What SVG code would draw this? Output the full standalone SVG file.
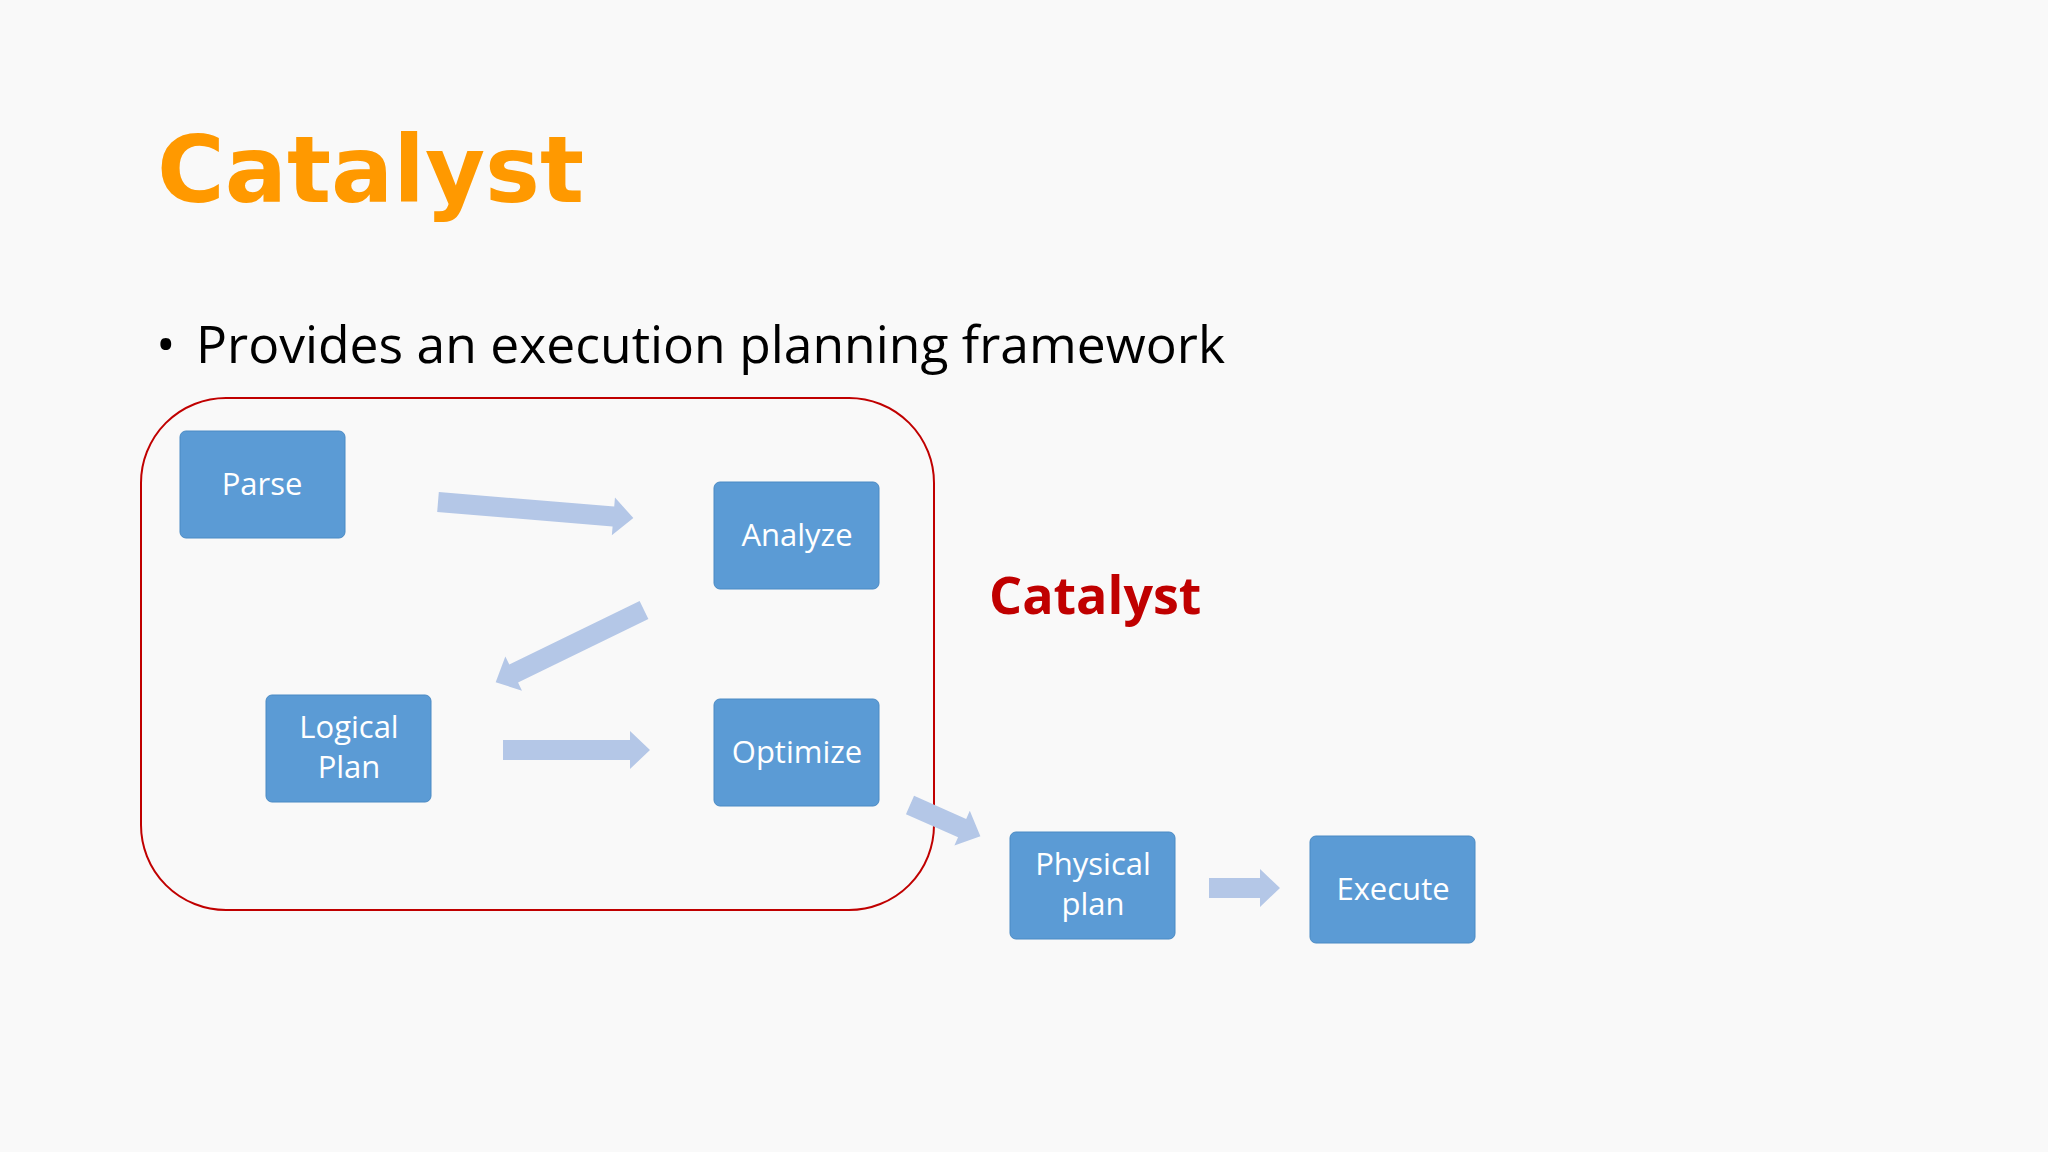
<svg xmlns="http://www.w3.org/2000/svg" width="2048" height="1152" viewBox="0 0 2048 1152">
<style>
.box{fill:#5b9bd5;stroke:#4a8ac4;stroke-width:1}
.bt{font-family:"Open Sans","Liberation Sans",sans-serif;font-size:31px;fill:#fff;text-anchor:middle}
.arr{fill:#b4c7e7}
</style>
<rect width="2048" height="1152" fill="#f9f9f9"/>
<text x="157" y="202" font-family="'DejaVu Sans',sans-serif" font-weight="bold" font-size="92" fill="#ff9900" textLength="427" lengthAdjust="spacingAndGlyphs">Catalyst</text>
<text x="156" y="363" font-family="'Open Sans','Liberation Sans',sans-serif" font-size="52" fill="#000">•</text>
<text x="196" y="363" font-family="'Open Sans','Liberation Sans',sans-serif" font-size="52" fill="#000" textLength="1029" lengthAdjust="spacingAndGlyphs">Provides an execution planning framework</text>
<rect x="141" y="398" width="793" height="512" rx="85" fill="none" stroke="#c00000" stroke-width="2"/>
<text x="989" y="614" font-family="'Open Sans','Liberation Sans',sans-serif" font-weight="bold" font-size="52" fill="#c00000">Catalyst</text>
<g id="connectors">
<path class="arr" transform="translate(438,502) rotate(4.7)" d="M0,-10H176V-19L196,0L176,19V10H0Z"/>
<path class="arr" transform="translate(644,610) rotate(154)" d="M0,-10H145V-19L165,0L145,19V10H0Z"/>
<path class="arr" transform="translate(503,750)" d="M0,-10H127V-19L147,0L127,19V10H0Z"/>
<path class="arr" transform="translate(910,805) rotate(23.9)" d="M0,-10H57V-19L77,0L57,19V10H0Z"/>
<path class="arr" transform="translate(1209,888)" d="M0,-10H51V-19L71,0L51,19V10H0Z"/>
</g>
<g id="parse"><rect class="box" x="180" y="431" width="165" height="107" rx="6"/><text class="bt" x="262" y="495">Parse</text></g>
<g id="analyze"><rect class="box" x="714" y="482" width="165" height="107" rx="6"/><text class="bt" x="797" y="546">Analyze</text></g>
<g id="logical"><rect class="box" x="266" y="695" width="165" height="107" rx="6"/><text class="bt" x="349" y="738">Logical</text><text class="bt" x="349" y="778">Plan</text></g>
<g id="optimize"><rect class="box" x="714" y="699" width="165" height="107" rx="6"/><text class="bt" x="797" y="763">Optimize</text></g>
<g id="physical"><rect class="box" x="1010" y="832" width="165" height="107" rx="6"/><text class="bt" x="1093" y="875">Physical</text><text class="bt" x="1093" y="915">plan</text></g>
<g id="execute"><rect class="box" x="1310" y="836" width="165" height="107" rx="6"/><text class="bt" x="1393" y="900">Execute</text></g>
</svg>
